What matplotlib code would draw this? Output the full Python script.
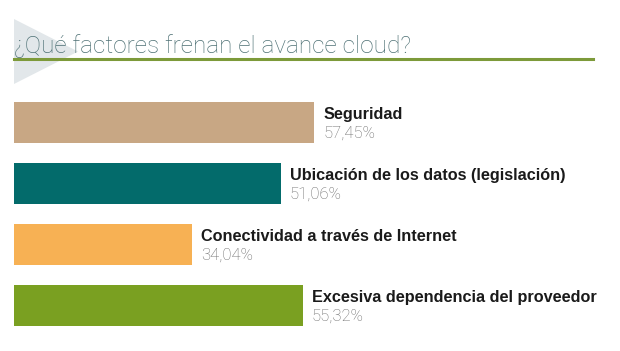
import matplotlib
matplotlib.use("Agg")
import matplotlib.pyplot as plt
from matplotlib.patches import Polygon
from matplotlib.lines import Line2D

factors = ["Seguridad", "Ubicación de los datos (legislación)",
           "Conectividad a través de Internet", "Excesiva dependencia del proveedor"]
values = [57.45, 51.06, 34.04, 55.32]
value_labels = ["57,45%", "51,06%", "34,04%", "55,32%"]
colors = ["#c8a784", "#036b6b", "#f7b154", "#7aa021"]

W, H = 620, 351
fig = plt.figure(figsize=(W / 100, H / 100), dpi=100)
fig.patch.set_facecolor("white")

# light grey "play" arrow behind the title
tri = Polygon([[14 / W, 1 - 19 / H], [78 / W, 1 - 51.5 / H], [14 / W, 1 - 84 / H]],
              closed=True, transform=fig.transFigure, facecolor="#e2e7ea",
              edgecolor="none", zorder=0)
fig.patches.append(tri)

fig.text(14 / W, 1 - 53 / H, "¿Qué factores frenan el avance cloud?",
         fontsize=17.6, family="Roboto", fontweight="light", color="#4d7074",
         ha="left", va="baseline", zorder=2)
fig.lines.append(Line2D([14 / W, 593 / W], [1 - 58.5 / H, 1 - 58.5 / H],
                        transform=fig.transFigure, color="#7d9a3a", lw=2.2, zorder=2))

ax = fig.add_axes([14 / W, 1 - 336 / H, 522.2 / W, 244 / H])
ypos = list(range(len(values)))
ax.barh(ypos, values, height=0.67, color=colors, left=0)
ax.set_xlim(0, 100)
ax.set_ylim(3.5, -0.5)
ax.axis("off")

for y, v, name, lab in zip(ypos, values, factors, value_labels):
    ax.annotate(name, xy=(v, y), xytext=(6.5, 2.5), textcoords="offset points",
                ha="left", va="baseline", fontsize=11.7, fontweight="bold",
                family="Liberation Sans", color="#1a1a1a")
    ax.annotate(lab, xy=(v, y), xytext=(6.5, -11), textcoords="offset points",
                ha="left", va="baseline", fontsize=12, fontweight="light",
                family="Roboto", color="#6a6a6a")

fig.savefig("out.png", dpi=100)
